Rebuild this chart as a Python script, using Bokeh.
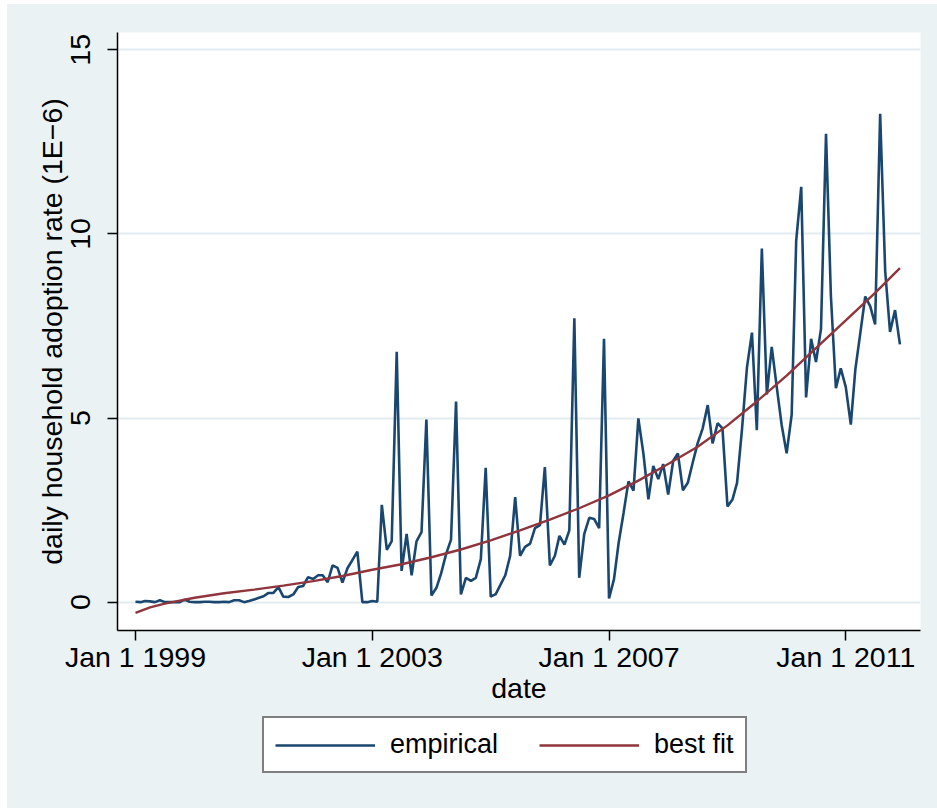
from datetime import datetime
from bokeh.plotting import figure
from bokeh.layouts import column
from bokeh.models import Range1d, FixedTicker, Legend, LegendItem, ColumnDataSource
from bokeh.embed import file_html
from bokeh.resources import INLINE

# ---------------- data ----------------
first_month = (1999, 1)          # monthly observations start
empirical = [
    0.01, 0.00, 0.03, 0.02, 0.00, 0.05, 0.00, 0.00, 0.00, 0.00, 0.07, 0.01,
    0.00, 0.00, 0.01, 0.01, 0.00, 0.00, 0.01, 0.00, 0.05, 0.05, 0.00, 0.03,
    0.07, 0.12, 0.16, 0.25, 0.25, 0.41, 0.15, 0.14, 0.21, 0.41, 0.44, 0.68,
    0.63, 0.73, 0.73, 0.54, 1.00, 0.93, 0.53, 0.92, 1.15, 1.37, 0.00, 0.00,
    0.03, 0.01, 2.64, 1.42, 1.66, 6.80, 0.85, 1.85, 0.73, 1.65, 1.90, 4.96,
    0.18, 0.39, 0.78, 1.31, 1.70, 5.45, 0.21, 0.66, 0.58, 0.66, 1.17, 3.65,
    0.15, 0.22, 0.46, 0.73, 1.26, 2.85, 1.26, 1.50, 1.59, 2.01, 2.09, 3.67,
    1.00, 1.26, 1.80, 1.56, 1.95, 7.71, 0.66, 1.85, 2.29, 2.26, 2.01, 7.15,
    0.10, 0.63, 1.60, 2.43, 3.28, 3.03, 4.99, 4.04, 2.79, 3.70, 3.34, 3.75,
    2.92, 3.84, 4.04, 3.04, 3.24, 3.80, 4.32, 4.72, 5.35, 4.31, 4.86, 4.72,
    2.60, 2.79, 3.24, 4.72, 6.37, 7.32, 4.67, 9.60, 5.64, 6.93, 5.84, 4.82,
    4.04, 5.09, 9.82, 11.28, 5.56, 7.15, 6.52, 7.42, 12.72, 8.32, 5.81, 6.35,
    5.84, 4.82, 6.32, 7.32, 8.30, 8.03, 7.54, 13.26, 9.00, 7.34, 7.93, 7.00,
]
# best-fit curve read at selected months (index from Jan 1999)
fit_month_index = [0, 3, 6, 12, 18, 24, 30, 36, 42, 48, 54, 60, 66, 72, 78,
                   84, 90, 96, 102, 108, 114, 120, 126, 132, 138, 144, 150, 155]
fit_values = [-0.29, -0.14, -0.04, 0.12, 0.24, 0.34, 0.45, 0.57, 0.71, 0.88,
              1.03, 1.22, 1.43, 1.68, 1.95, 2.24, 2.55, 2.90, 3.30, 3.75,
              4.22, 4.80, 5.45, 6.15, 6.90, 7.65, 8.40, 9.07]

tick_dates = [(1999, 1, 1), (2003, 1, 1), (2007, 1, 1), (2011, 1, 1)]
tick_labels = ["Jan 1 1999", "Jan 1 2003", "Jan 1 2007", "Jan 1 2011"]
y_ticks = [0, 5, 10, 15]
x_label = "date"
y_label = "daily household adoption rate (1E\u22126)"
legend_labels = ["empirical", "best fit"]

# ---------------- helpers ----------------
EPOCH = datetime(1970, 1, 1)
def ms(y, m, d=1):
    return (datetime(y, m, d) - EPOCH).total_seconds() * 1000.0

def month_ms(i):
    y0, m0 = first_month
    k = (m0 - 1) + i
    return ms(y0 + k // 12, k % 12 + 1, 1)

emp_x = [month_ms(i) for i in range(len(empirical))]
fit_x = [month_ms(i) for i in fit_month_index]
tick_ms = [ms(*t) for t in tick_dates]

FONT = "Liberation Sans"
FS = "28.5px"
LFS = "27px"
BG = "#EAF2F3"
NAVY = "#1A476F"
MAROON = "#90353B"
EMP_W = 2.6
FIT_W = 2.4

# ---------------- main plot ----------------
p = figure(width=930, height=712,
           output_backend="svg", toolbar_location=None,
           x_range=Range1d(ms(1998, 9, 12), ms(2012, 4, 6)),
           y_range=Range1d(-0.77, 15.47),
           min_border_left=110, min_border_right=17, min_border_top=28,
           min_border_bottom=86,
           background_fill_color="white", border_fill_color=BG,
           outline_line_color=None)

src_e = ColumnDataSource(dict(x=emp_x, y=empirical))
src_f = ColumnDataSource(dict(x=fit_x, y=fit_values))
p.line("x", "y", source=src_e, line_color=NAVY, line_width=EMP_W)
p.line("x", "y", source=src_f, line_color=MAROON, line_width=FIT_W)

p.xgrid.visible = False
p.ygrid.ticker = FixedTicker(ticks=y_ticks)
p.ygrid.grid_line_color = "#E3ECEF"
p.ygrid.grid_line_width = 2

for ax in (p.xaxis[0], p.yaxis[0]):
    ax.axis_line_color = "black"
    ax.axis_line_width = 1.5
    ax.major_tick_line_color = "black"
    ax.major_tick_line_width = 1.5
    ax.major_tick_out = 10
    ax.major_tick_in = 0
    ax.minor_tick_out = 0
    ax.minor_tick_in = 0
    ax.major_label_text_font = FONT
    ax.major_label_text_font_size = FS
    ax.major_label_text_color = "black"
    ax.axis_label_text_font = FONT
    ax.axis_label_text_font_size = FS
    ax.axis_label_text_font_style = "normal"
    ax.axis_label_text_color = "black"

p.xaxis.ticker = FixedTicker(ticks=tick_ms)
p.xaxis.major_label_overrides = {t: lab for t, lab in zip(tick_ms, tick_labels)}
p.xaxis.major_label_standoff = 0
p.xaxis.axis_label = x_label
p.xaxis.axis_label_standoff = -4

p.yaxis.ticker = FixedTicker(ticks=y_ticks)
p.yaxis.major_label_orientation = "vertical"
p.yaxis.major_label_standoff = 17
p.yaxis.axis_label = y_label
p.yaxis.axis_label_standoff = 1

# ---------------- legend strip ----------------
lf = figure(width=930, height=92,
            output_backend="svg", toolbar_location=None,
            x_range=Range1d(0, 1), y_range=Range1d(0, 1),
            x_axis_location=None, y_axis_location=None,
            min_border=0, min_border_left=0, min_border_right=0,
            min_border_top=0, min_border_bottom=0,
            background_fill_color=None, border_fill_color=BG,
            outline_line_color=None)
lf.xgrid.visible = False
lf.ygrid.visible = False
# key renderers: kept outside the visible range, used only for the legend keys
k1 = lf.line(x=[-3, -2], y=[-3, -2], line_color=NAVY, line_width=EMP_W)
k2 = lf.line(x=[-3, -2], y=[-3, -2], line_color=MAROON, line_width=FIT_W)

legend = Legend(items=[LegendItem(label=legend_labels[0], renderers=[k1]),
                       LegendItem(label=legend_labels[1], renderers=[k2])],
                orientation="horizontal", location=(145, 35),
                label_text_font=FONT, label_text_font_size=LFS,
                label_text_color="black",
                glyph_width=100, glyph_height=20, label_standoff=15,
                spacing=41, padding=11, margin=0,
                border_line_color="black", border_line_width=2,
                background_fill_color="white", background_fill_alpha=1.0)
lf.add_layout(legend, "center")

layout = column(p, lf, spacing=0, margin=(4, 0, 0, 7),
                styles={"background-color": BG})
open("out.html", "w").write(file_html(layout, INLINE))
